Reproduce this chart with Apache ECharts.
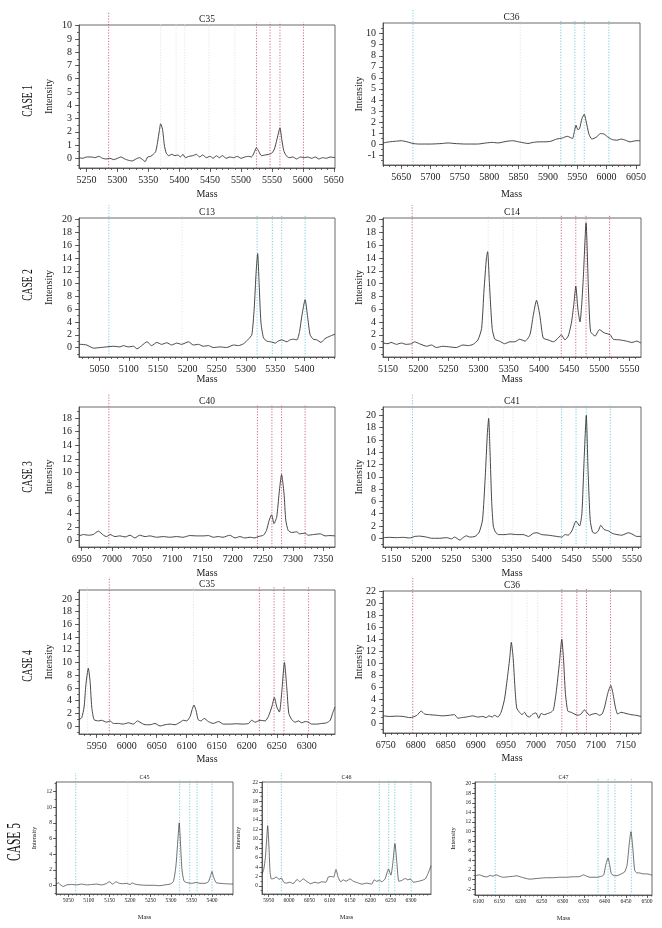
<!DOCTYPE html>
<html>
<head>
<meta charset="utf-8">
<script src="https://cdn.jsdelivr.net/npm/echarts@6/dist/echarts.min.js"></script>
<style>
  html, body { margin: 0; padding: 0; background: #fff; }
  #main { width: 662px; height: 928px; }
</style>
</head>
<body>
<div id="main"></div>
<script>
// ---------- data: [mass, intensity] ----------
// CASE 1 / C35
var specA = [[5238,0.05],[5244,0.0],[5250,0.1],[5258,0.1],[5264,0.05],[5270,0.15],[5276,0.0],[5282,-0.05],[5288,0.0],[5294,-0.1],[5300,0.0],[5306,0.1],[5312,-0.05],[5318,-0.15],[5324,-0.2],[5330,-0.05],[5336,0.05],[5341,-0.1],[5345,-0.25],[5349,0.1],[5354,0.15],[5358,0.3],[5362,0.5],[5365,1.2],[5368,2.1],[5370,2.6],[5373,2.2],[5376,1.0],[5379,0.4],[5383,0.2],[5388,0.3],[5393,0.2],[5398,0.25],[5402,0.1],[5406,0.3],[5410,0.05],[5416,0.15],[5422,0.2],[5428,0.3],[5433,0.1],[5438,0.25],[5444,0.05],[5450,0.15],[5455,0.0],[5460,0.2],[5465,0.05],[5470,0.2],[5476,0.0],[5482,0.1],[5488,0.05],[5494,0.15],[5500,0.0],[5506,0.1],[5512,0.15],[5517,0.1],[5521,0.4],[5525,0.8],[5529,0.5],[5533,0.2],[5539,0.25],[5545,0.3],[5550,0.4],[5554,0.7],[5558,1.4],[5561,2.0],[5563,2.3],[5566,1.4],[5569,0.6],[5573,0.2],[5578,0.05],[5584,0.1],[5590,-0.05],[5596,0.1],[5602,0.05],[5608,0.1],[5614,0.0],[5620,0.1],[5626,-0.05],[5632,0.05],[5638,0.0],[5644,0.1],[5652,0.05]];
var refA = [5286];
var markA = [5525, 5547, 5563, 5601];
var greyA = [5370, 5395, 5409, 5448, 5490];
var xTickA = [5250, 5300, 5350, 5400, 5450, 5500, 5550, 5600, 5650];
var yTickA = [0, 1, 2, 3, 4, 5, 6, 7, 8, 9, 10];

// CASE 1 / C36
var specB = [[5619,0.1],[5630,0.2],[5640,0.25],[5650,0.3],[5660,0.2],[5670,0.05],[5680,0.0],[5700,0.0],[5720,0.05],[5730,0.1],[5740,0.05],[5760,0.0],[5780,0.0],[5795,0.1],[5805,0.15],[5815,0.1],[5830,0.25],[5840,0.3],[5850,0.2],[5860,0.1],[5866,0.05],[5875,0.15],[5885,0.2],[5895,0.2],[5905,0.25],[5915,0.45],[5925,0.55],[5933,0.7],[5938,0.6],[5942,0.5],[5945,1.1],[5948,1.7],[5951,1.3],[5954,1.4],[5958,2.3],[5962,2.7],[5965,2.1],[5970,0.9],[5975,0.45],[5982,0.6],[5990,0.95],[5996,0.9],[6003,0.6],[6010,0.4],[6018,0.35],[6025,0.45],[6032,0.35],[6040,0.2],[6050,0.3],[6057,0.3]];
var refB = [5670];
var markB = [5922, 5946, 5962, 6004];
var greyB = [5853];
var xTickB = [5650, 5700, 5750, 5800, 5850, 5900, 5950, 6000, 6050];
var yTickB = [-1, 0, 1, 2, 3, 4, 5, 6, 7, 8, 9, 10];

// CASE 2 / C13
var specC = [[5015,0.5],[5017,0.5],[5028,0.4],[5040,-0.1],[5051,0.0],[5062,0.1],[5074,0.2],[5085,0.1],[5091,0.3],[5099,0.1],[5108,0.2],[5114,-0.2],[5122,0.3],[5131,0.9],[5139,0.3],[5148,0.8],[5156,0.5],[5165,0.75],[5173,0.4],[5182,0.7],[5190,0.5],[5202,0.9],[5210,0.4],[5219,0.5],[5227,0.2],[5236,0.3],[5244,0.0],[5256,0.1],[5267,0.0],[5279,0.4],[5287,0.3],[5296,0.6],[5304,1.3],[5310,2.0],[5314,6],[5317.5,12],[5320,14.7],[5322.5,10],[5325.5,4],[5330,1.5],[5336,1.0],[5342,0.9],[5350,0.7],[5355,1.0],[5361,1.2],[5370,0.9],[5375,1.2],[5381,1.3],[5387,1.2],[5391.5,2.5],[5395.5,5],[5401,7.5],[5405,5],[5409.5,2],[5415,1.3],[5421,1.2],[5428,0.8],[5435,1.4],[5444,1.8],[5452,2.1]];
var refC = [5066];
var markC = [5319, 5345, 5361, 5401];
var greyC = [5191];
var xTickC = [5050, 5100, 5150, 5200, 5250, 5300, 5350, 5400];
var yTickC = [0, 2, 4, 6, 8, 10, 12, 14, 16, 18, 20];

// CASE 2 / C14
var specD = [[5142,0.7],[5150,0.6],[5155,0.8],[5164,0.5],[5172,0.7],[5180,0.5],[5189,0.6],[5194,0.9],[5202,0.6],[5214,0.2],[5222,0.4],[5230,0.0],[5241,0.2],[5252,0.1],[5263,0.0],[5274,0.4],[5283,0.3],[5291,0.5],[5299,1.2],[5305,3],[5309,9],[5313,14],[5315,15],[5318,10],[5322.5,3],[5327,1.3],[5335,1.0],[5343,0.6],[5352,0.9],[5360,0.9],[5368,1.3],[5377,1.0],[5385,2],[5390.5,5],[5396,7.4],[5401.5,5],[5407,1.5],[5415,1.2],[5424,0.9],[5432,1.5],[5437,2],[5443,1.2],[5448.5,1.8],[5454,4],[5458,7],[5461,9.6],[5464.5,6],[5468,4],[5471,7],[5473.5,11],[5478,19.5],[5482,9],[5485.5,2.5],[5493,1.8],[5500,2.8],[5508,2.3],[5518,2.0],[5523,1.3],[5534,1.2],[5545,1.0],[5554,0.8],[5562,1.0],[5569,0.7]];
var refD = [5190];
var markD = [5437, 5461, 5478, 5517];
var greyD = [5316, 5341, 5357, 5396];
var xTickD = [5150, 5200, 5250, 5300, 5350, 5400, 5450, 5500, 5550];
var yTickD = [0, 2, 4, 6, 8, 10, 12, 14, 16, 18, 20];

// CASE 3 / C40
var specE = [[6945.5,0.7],[6953,0.9],[6961,0.8],[6969,0.9],[6977.5,1.4],[6986,0.8],[6991,0.6],[6997,0.9],[7005,0.6],[7013,0.7],[7022,0.55],[7030,0.8],[7038,0.4],[7046,0.8],[7055,0.6],[7063,0.7],[7074,0.5],[7085,0.6],[7096,0.5],[7107,0.6],[7118,0.5],[7129,0.75],[7140,0.7],[7151,0.7],[7160,0.75],[7168,0.5],[7176,0.6],[7184,0.5],[7195,0.8],[7204,0.4],[7212,0.6],[7220,0.4],[7229,0.5],[7237,0.4],[7242,0.6],[7251,0.8],[7256,1.5],[7260.5,3],[7264.5,3.8],[7268.5,2.5],[7273,3.5],[7277,7],[7281,9.7],[7285,7],[7288,3],[7292,1.5],[7298,1.2],[7306,1.3],[7311,1.0],[7320,1.1],[7325,0.8],[7334,0.9],[7345,1.0],[7353,0.7],[7361,0.75],[7369.5,0.7]];
var refE = [6995];
var markE = [7241, 7265, 7281, 7320];
var greyE = [];
var xTickE = [6950, 7000, 7050, 7100, 7150, 7200, 7250, 7300, 7350];
var yTickE = [0, 2, 4, 6, 8, 10, 12, 14, 16, 18];

// CASE 3 / C41
var specF = [[5136,0.1],[5147,0.15],[5158,0.1],[5169,0.15],[5180,0.05],[5189,0.3],[5197,0.35],[5208,0.2],[5217,0.0],[5230,0.0],[5242,0.1],[5250,-0.1],[5255,0.2],[5264,-0.3],[5269,0.1],[5275,0.4],[5280,0.2],[5289,0.3],[5296,1.0],[5301.5,3],[5306,10],[5309.5,17],[5311.7,19.5],[5314,14],[5316.7,6],[5319.4,2],[5323,1.0],[5328,0.6],[5339,0.6],[5347,0.7],[5358,0.6],[5369,0.6],[5378,0.3],[5386,0.8],[5392,0.9],[5400,0.6],[5411,0.5],[5425,0.3],[5433,0.2],[5439,0.6],[5444,0.5],[5450,1.2],[5457,2.8],[5462.8,2.0],[5466.7,4],[5470.5,13],[5474,20],[5477,11],[5480.5,3],[5484.4,1.0],[5489,0.8],[5494,1.2],[5498,2.1],[5504,1.4],[5511,1.2],[5517,0.8],[5525,0.6],[5533,0.5],[5544,0.9],[5550,0.7],[5558,0.3],[5565,0.3]];
var refF = [5185];
var markF = [5433, 5457, 5474, 5514];
var greyF = [5311, 5336, 5352, 5392];
var xTickF = [5150, 5200, 5250, 5300, 5350, 5400, 5450, 5500, 5550];
var yTickF = [0, 2, 4, 6, 8, 10, 12, 14, 16, 18, 20];

// CASE 4 / C35
var specG = [[5920.5,1.0],[5925,1.3],[5929,3],[5932,6.5],[5936,9.1],[5939,7],[5941.7,3],[5945.6,1.0],[5953,0.8],[5958,0.9],[5966.7,0.6],[5972,0.8],[5978,0.4],[5986,0.4],[5994,0.3],[6003,0.5],[6011,0.3],[6018,0.8],[6022,0.6],[6030.6,0.2],[6039,0.2],[6047,0.4],[6055.6,0.0],[6064,0.2],[6072,0.3],[6080.6,0.2],[6089,0.6],[6094.4,0.9],[6100,0.8],[6105.6,1.5],[6109,2.6],[6112,3.3],[6115.6,2.4],[6119,1.0],[6124,0.8],[6129,1.2],[6136,0.7],[6144,0.4],[6153,0.7],[6161,0.3],[6172,0.3],[6183,0.35],[6194,0.3],[6203,0.4],[6208,0.9],[6214,0.6],[6222,0.9],[6230.6,0.8],[6236,1.5],[6241.7,3],[6246,4.5],[6250,3],[6254.4,2.2],[6258,5],[6262.8,10],[6266.7,6],[6270,2],[6275,1.0],[6280.6,0.6],[6286,0.8],[6291.7,0.5],[6297,0.7],[6302.8,0.6],[6308,0.3],[6316.7,0.3],[6325,0.4],[6333,0.5],[6339,0.9],[6343,2],[6347,3.0]];
var refG = [5971];
var markG = [6221, 6245.5, 6262, 6303];
var greyG = [5934.5, 6111];
var xTickG = [5950, 6000, 6050, 6100, 6150, 6200, 6250, 6300];
var yTickG = [0, 2, 4, 6, 8, 10, 12, 14, 16, 18, 20];

// CASE 4 / C36
var specH = [[6745.5,1.2],[6756.6,1.1],[6767.7,1.15],[6778.8,1.1],[6790,0.9],[6795.4,1.0],[6802,1.3],[6809,2.0],[6814.8,1.5],[6823,1.4],[6834,1.3],[6845,1.2],[6856,1.3],[6864.6,1.4],[6870,0.8],[6875.7,0.9],[6884,1.0],[6895,1.2],[6903,1.0],[6911.7,1.1],[6917,0.9],[6921.7,1.2],[6927,1.0],[6931,1.3],[6936.6,1.0],[6942,1.8],[6947.7,4],[6953,8],[6956.5,11],[6959,13.5],[6962,11],[6965,6],[6968,2.5],[6972.6,1.8],[6977,1.4],[6981,1.8],[6984.8,1.2],[6989,1.0],[6994.7,1.5],[7000,1.7],[7004.7,0.8],[7008.6,1.6],[7014,1.4],[7019.7,1.6],[7025,1.8],[7029,2.2],[7033.5,5],[7039,10],[7043,14],[7045.7,11],[7049,5],[7053,2],[7058.6,1.8],[7064,1.5],[7069.7,1.3],[7075,1.5],[7080.7,2.2],[7084.4,1.8],[7089,1.3],[7094.6,1.5],[7100,1.6],[7105.5,1.3],[7110,1.5],[7113.8,2.5],[7119.6,5],[7124.5,6.3],[7128,5],[7132.5,2.5],[7136,1.5],[7141.5,1.8],[7149.8,1.6],[7158,1.4],[7166,1.3],[7174.8,1.1]];
var refH = [6795];
var markH = [7043, 7068, 7084, 7124];
var greyH = [6960, 6985, 7003];
var xTickH = [6750, 6800, 6850, 6900, 6950, 7000, 7050, 7100, 7150];
var yTickH = [0, 2, 4, 6, 8, 10, 12, 14, 16, 18, 20, 22];

// CASE 5 / C45
var specI = [[5020,0.2],[5025.6,0.35],[5031,0.1],[5037.8,-0.1],[5046,0.1],[5058,0.15],[5070,0.1],[5082.5,0.2],[5094.6,0.1],[5106.8,0.15],[5119,0.2],[5131,0.1],[5141.7,0.25],[5150,0.5],[5158,0.2],[5166,0.5],[5174,0.3],[5184,0.25],[5192,0.3],[5200,0.15],[5206,0.35],[5212,0.2],[5224.5,0.1],[5240.7,0.05],[5257,0.05],[5273,0.0],[5285,0.1],[5297.6,0.2],[5305.7,0.5],[5312,2.5],[5317,6],[5320,8],[5323.5,5],[5326.8,2],[5331.6,0.6],[5338,0.4],[5350,0.3],[5362.5,0.4],[5370.6,0.3],[5382.8,0.3],[5391,0.5],[5396.6,1.3],[5400,1.8],[5403,1.2],[5409.6,0.4],[5419,0.3],[5431,0.25],[5451,0.2]];
var refI = [5068];
var markI = [5321, 5345.6, 5363.5, 5400];
var greyI = [5195];
var xTickI = [5050, 5100, 5150, 5200, 5250, 5300, 5350, 5400];
var yTickI = [0, 2, 4, 6, 8, 10, 12];

// CASE 5 / C46
var specJ = [[5933.5,2.5],[5937.7,3.5],[5941.8,6],[5945,10],[5947.5,12.8],[5950.8,8],[5953.3,3],[5956.6,1.5],[5963,1.6],[5969,1.9],[5975.5,1.4],[5981,1.7],[5987,0.8],[5993.6,0.6],[6002,0.8],[6010,0.5],[6020,1.4],[6026.5,0.9],[6034.8,1.5],[6043,1.0],[6053,0.5],[6063.6,0.8],[6071.8,0.6],[6080,0.9],[6090.7,0.8],[6096.5,1.9],[6104.7,2.0],[6109.7,1.9],[6115.4,3.5],[6121,1.8],[6127,0.9],[6133.5,1.3],[6140,1.0],[6150,1.5],[6158,1.0],[6168,0.7],[6178.8,0.4],[6191,0.6],[6203.5,0.4],[6209,1.3],[6215.8,1.0],[6222.4,1.2],[6228,0.9],[6236,1.5],[6244.6,3.6],[6250.4,2.3],[6255.3,5],[6260.3,9],[6265,5],[6270,1.0],[6277.6,1.2],[6285.8,1.6],[6292,1.3],[6298,1.5],[6306,0.8],[6318.7,1.0],[6327,1.2],[6335,1.5],[6341,2.5],[6349,4.3]];
var refJ = [5981];
var markJ = [6222, 6245, 6260, 6300];
var greyJ = [5947, 6117];
var xTickJ = [5950, 6000, 6050, 6100, 6150, 6200, 6250, 6300];
var yTickJ = [0, 2, 4, 6, 8, 10, 12, 14, 16, 18, 20, 22];

// CASE 5 / C47
var specK = [[6091.3,0.6],[6096,0.9],[6102.4,1.0],[6108,0.8],[6115.8,0.6],[6121.3,0.6],[6127.6,0.9],[6134,0.7],[6141.8,1.0],[6149.7,0.7],[6159,0.5],[6171,0.6],[6182.8,0.7],[6190.7,0.8],[6198.6,0.6],[6210.5,0.3],[6222,0.1],[6234,0.2],[6246,0.3],[6261.7,0.4],[6277.5,0.4],[6293,0.5],[6309,0.5],[6324.9,0.6],[6336.7,0.6],[6344.6,0.8],[6348.5,1.0],[6354.8,0.8],[6364.3,0.5],[6380,0.5],[6392,0.7],[6397.4,1.0],[6402,3],[6407.7,4.5],[6411.6,3],[6415.6,1.2],[6423.5,0.8],[6431.4,0.9],[6439,1.2],[6447,1.6],[6452.7,3],[6457.4,7],[6462,10],[6466,7],[6470.8,2],[6476,1.4],[6482.6,1.4],[6490.5,1.2],[6498.4,1.2],[6506,1.1],[6512,0.9]];
var refK = [6139.5];
var markK = [6384, 6407.7, 6424, 6463];
var greyK = [6311.6];
var xTickK = [6100, 6150, 6200, 6250, 6300, 6350, 6400, 6450, 6500];
var yTickK = [-2, 0, 2, 4, 6, 8, 10, 12, 14, 16, 18, 20];

// ---------- layout ----------
var RED = '#c9587a', CYAN = '#6cc8d3', GREY = '#dedede';
var FONT = '"Liberation Serif", "DejaVu Serif", serif';

var panels = [
  { t: 'C35', s: specA, r: refA, m: markA, g: greyA, c: RED,  x: [5238, 5652],   y: [-0.73, 10.05], xt: xTickA, yt: yTickA, box: [79, 25, 256, 143],  mg: 21, ig: 25 },
  { t: 'C36', s: specB, r: refB, m: markB, g: greyB, c: CYAN, x: [5619, 6057],   y: [-1.9, 10.97],  xt: xTickB, yt: yTickB, box: [383, 23, 257, 142], mg: 24, ig: 19 },
  { t: 'C13', s: specC, r: refC, m: markC, g: greyC, c: CYAN, x: [5015, 5452],   y: [-1.48, 20.27], xt: xTickC, yt: yTickC, box: [79, 218, 256, 139], mg: 17, ig: 25 },
  { t: 'C14', s: specD, r: refD, m: markD, g: greyD, c: RED,  x: [5141.7, 5569], y: [-1.48, 20.27], xt: xTickD, yt: yTickD, box: [383, 218, 258, 139], mg: 17, ig: 19 },
  { t: 'C40', s: specE, r: refE, m: markE, g: greyE, c: RED,  x: [6945.5, 7369.5], y: [-0.93, 19.62], xt: xTickE, yt: yTickE, box: [79, 407, 256, 140], mg: 21, ig: 25 },
  { t: 'C41', s: specF, r: refF, m: markF, g: greyF, c: CYAN, x: [5136, 5565],   y: [-1.42, 21.36], xt: xTickF, yt: yTickF, box: [383, 407, 258, 140], mg: 21, ig: 19 },
  { t: 'C35', s: specG, r: refG, m: markG, g: greyG, c: RED,  x: [5920.5, 6347], y: [-1.26, 21.42], xt: xTickG, yt: yTickG, box: [79, 590, 256, 144], mg: 20, ig: 25 },
  { t: 'C36', s: specH, r: refH, m: markH, g: greyH, c: RED,  x: [6745.5, 7174.8], y: [-1.67, 22.1], xt: xTickH, yt: yTickH, box: [383, 591, 258, 142], mg: 20, ig: 19 },
  { t: 'C45', s: specI, r: refI, m: markI, g: greyI, c: CYAN, x: [5020, 5451],   y: [-1.06, 13.2],  xt: xTickI, yt: yTickI, box: [56, 782, 177, 112],  mg: 20, ig: 18, small: true },
  { t: 'C46', s: specJ, r: refJ, m: markJ, g: greyJ, c: CYAN, x: [5933.5, 6349], y: [-1.7, 22.07],  xt: xTickJ, yt: yTickJ, box: [262, 782, 169, 112], mg: 20, ig: 20, small: true },
  { t: 'C47', s: specK, r: refK, m: markK, g: greyK, c: CYAN, x: [6091.5, 6512], y: [-3.2, 20.34],  xt: xTickK, yt: yTickK, box: [475, 782, 177, 113], mg: 20, ig: 18, small: true }
];

var cases = [
  { text: 'CASE 1', x: 28, y: 101, size: 15 },
  { text: 'CASE 2', x: 28, y: 285, size: 15 },
  { text: 'CASE 3', x: 28, y: 477, size: 15 },
  { text: 'CASE 4', x: 28, y: 666, size: 15 },
  { text: 'CASE 5', x: 15, y: 842, size: 18 }
];

function minorTicks(lo, hi, step) {
  var out = [];
  for (var v = Math.ceil(lo / step) * step; v <= hi + 1e-9; v += step) out.push(+v.toFixed(6));
  return out;
}

function makeAxis(dim, gi, range, ticks, len, main, small, name, gap) {
  return {
    type: 'value', gridIndex: gi, min: range[0], max: range[1],
    position: dim === 'x' ? 'bottom' : 'left', offset: 0,
    splitLine: { show: false },
    axisLine: { show: main, onZero: false, lineStyle: { color: '#444', width: 0.8 } },
    axisTick: { show: true, inside: false, length: len, customValues: ticks, lineStyle: { color: '#444', width: 0.8 } },
    axisLabel: {
      show: main, customValues: ticks, fontFamily: FONT, fontSize: small ? 5.5 : 10, color: '#222', margin: small ? 4 : 7,
      formatter: function (v) { return String(v); }  // no thousands separator
    },
    name: main ? name : '', nameLocation: 'middle', nameGap: gap, nameMoveOverlap: false,
    nameTextStyle: { fontFamily: FONT, fontSize: small ? 6.5 : 10, color: '#222' }
  };
}

var grids = [], xAxes = [], yAxes = [], series = [], graphics = [];

panels.forEach(function (p, i) {
  var small = !!p.small;
  var b = p.box;
  grids.push({ left: b[0], top: b[1], width: b[2], height: b[3], show: true, borderColor: '#444', borderWidth: 0.8, containLabel: false, outerBoundsMode: 'none' });

  var xs = p.xt[1] - p.xt[0], ys = p.yt[1] - p.yt[0];
  xAxes.push(makeAxis('x', i, p.x, p.xt, small ? 3 : 4, true, small, 'Mass', p.mg));
  xAxes.push(makeAxis('x', i, p.x, minorTicks(p.x[0], p.x[1], xs / 5), small ? 1.5 : 2, false, small, '', 0));
  yAxes.push(makeAxis('y', i, p.y, p.yt, small ? 3 : 4, true, small, 'Intensity', p.ig));
  yAxes.push(makeAxis('y', i, p.y, minorTicks(p.y[0], p.y[1], ys / 2), small ? 1.5 : 2, false, small, '', 0));

  // dotted mass markers, extending a little above the frame
  var span = p.y[1] - p.y[0];
  var tall = p.y[1] + (small ? 9 : 13) / b[3] * span;
  var short = p.y[1] + 3 / b[3] * span;
  function vline(m, top, color, w) {
    series.push({
      type: 'line', xAxisIndex: 2 * i, yAxisIndex: 2 * i, data: [[m, p.y[0]], [m, top]],
      symbol: 'none', clip: false, silent: true, z: 1, animation: false,
      lineStyle: { color: color, width: w, type: [1.2, 1.6] }
    });
  }
  p.g.forEach(function (m) { vline(m, short, GREY, 0.8); });
  p.r.forEach(function (m) { vline(m, tall, p.c, 0.9); });
  p.m.forEach(function (m) { vline(m, short, p.c, 0.9); });

  series.push({
    type: 'line', xAxisIndex: 2 * i, yAxisIndex: 2 * i, data: p.s,
    symbol: 'none', smooth: 0.2, silent: true, z: 3, animation: false,
    lineStyle: { color: '#333', width: small ? 0.7 : 0.9 }
  });

  graphics.push({
    type: 'text', x: b[0] + b[2] / 2, y: b[1] - (small ? 5 : 6),
    style: { text: p.t, fontFamily: FONT, fontSize: small ? 6 : 9.5, fill: '#222', align: 'center', verticalAlign: 'middle', textAlign: 'center', textVerticalAlign: 'middle' }
  });
});

cases.forEach(function (c) {
  graphics.push({
    type: 'text', x: c.x, y: c.y, rotation: Math.PI / 2, scaleX: 0.64,
    style: { text: c.text, fontFamily: FONT, fontSize: c.size, fill: '#111', align: 'center', verticalAlign: 'middle', textAlign: 'center', textVerticalAlign: 'middle' }
  });
});

var myChart = echarts.init(document.getElementById('main'), null, { renderer: 'canvas' });
myChart.setOption({
  animation: false,
  backgroundColor: '#fff',
  grid: grids,
  xAxis: xAxes,
  yAxis: yAxes,
  series: series,
  graphic: graphics
});
</script>
</body>
</html>
